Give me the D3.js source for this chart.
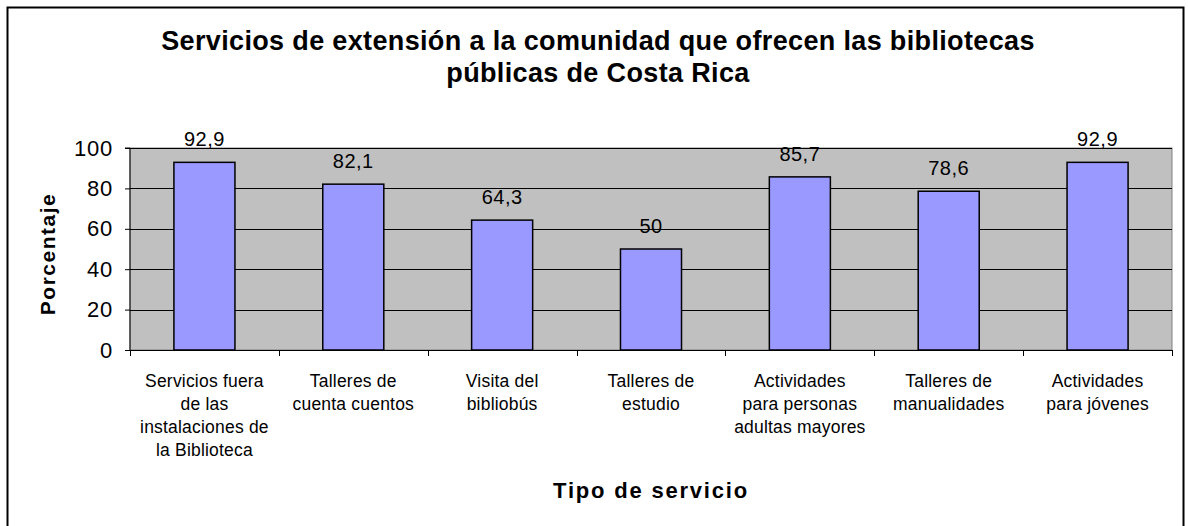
<!DOCTYPE html>
<html>
<head>
<meta charset="utf-8">
<script src="https://cdn.jsdelivr.net/npm/d3@7"></script>
<style>
  html, body { margin: 0; padding: 0; background: #fff; }
  svg { display: block; font-family: "Liberation Sans", Arial, sans-serif; }
</style>
</head>
<body>
<svg id="chart" width="1188" height="526"></svg>
<script>
// Service categories (each entry is the list of wrapped label lines)
const categories = [
  ["Servicios fuera", "de las", "instalaciones de", "la Biblioteca"],
  ["Talleres de", "cuenta cuentos"],
  ["Visita del", "bibliobús"],
  ["Talleres de", "estudio"],
  ["Actividades", "para personas", "adultas mayores"],
  ["Talleres de", "manualidades"],
  ["Actividades", "para jóvenes"]
];
// Percentage of libraries offering each service
const values = [92.9, 82.1, 64.3, 50, 85.7, 78.6, 92.9];
const yTicks = [0, 20, 40, 60, 80, 100];
const titleLines = [
  "Servicios de extensión a la comunidad que ofrecen las bibliotecas",
  "públicas de Costa Rica"
];

const svg = d3.select("#chart");
const plot = { left: 130, right: 1172, top: 148, bottom: 350 };

// Outer frame
svg.append("rect")
  .attr("x", 7.5).attr("y", 7.5)
  .attr("width", 1176).attr("height", 530)
  .attr("fill", "#fff").attr("stroke", "#000").attr("stroke-width", 2);

const idx = d3.range(categories.length);
const x = d3.scaleBand().domain(idx).range([plot.left, plot.right]).padding(0);
const y = d3.scaleLinear().domain([0, 100]).range([plot.bottom, plot.top]);

// Plot background
svg.append("rect")
  .attr("x", plot.left).attr("y", plot.top)
  .attr("width", plot.right - plot.left).attr("height", plot.bottom - plot.top)
  .attr("fill", "#c0c0c0").attr("stroke", "#808080").attr("stroke-width", 1);

// Gridlines
svg.append("g").selectAll("line")
  .data(yTicks.filter(t => t > 0))
  .join("line")
  .attr("x1", plot.left).attr("x2", plot.right)
  .attr("y1", d => Math.round(y(d)) + 0.5).attr("y2", d => Math.round(y(d)) + 0.5)
  .attr("stroke", "#000").attr("stroke-width", 1);

// Bars
const barFrac = 0.41;
const barW = x.bandwidth() * barFrac;
svg.append("g").selectAll("rect")
  .data(values)
  .join("rect")
  .attr("x", (d, i) => x(i) + (x.bandwidth() - barW) / 2)
  .attr("y", d => y(d))
  .attr("width", barW)
  .attr("height", d => y(0) - y(d))
  .attr("fill", "#9999ff")
  .attr("stroke", "#000").attr("stroke-width", 1.5);

// Value labels
svg.append("g").selectAll("text")
  .data(values)
  .join("text")
  .attr("x", (d, i) => x(i) + x.bandwidth() / 2)
  .attr("y", d => y(d) - 16)
  .attr("text-anchor", "middle")
  .attr("font-size", 20)
  .attr("letter-spacing", 0.5)
  .attr("fill", "#000")
  .text(d => String(d).replace(".", ","));

// Y axis
const yAxis = d3.axisLeft(y).tickValues(yTicks).tickSize(5).tickPadding(12);
const yg = svg.append("g").attr("transform", `translate(${plot.left},0)`).call(yAxis);
yg.select(".domain").attr("stroke", "#000").attr("d", `M-5,${plot.top}H0V${plot.bottom}`);
yg.selectAll(".tick line").attr("stroke", "#000");
yg.selectAll(".tick text").attr("font-size", 22).attr("fill", "#000")
  .attr("letter-spacing", 0.8)
  .attr("font-family", "Liberation Sans, Arial, sans-serif");

// X axis baseline and category separator ticks
svg.append("line")
  .attr("x1", plot.left).attr("x2", plot.right)
  .attr("y1", plot.bottom + 0.5).attr("y2", plot.bottom + 0.5)
  .attr("stroke", "#000");
svg.append("g").selectAll("line")
  .data(d3.range(categories.length + 1))
  .join("line")
  .attr("x1", i => Math.round(i < categories.length ? x(i) : plot.right) + 0.5)
  .attr("x2", i => Math.round(i < categories.length ? x(i) : plot.right) + 0.5)
  .attr("y1", plot.bottom).attr("y2", plot.bottom + 6)
  .attr("stroke", "#000");

// Category labels
const catG = svg.append("g");
categories.forEach((lines, i) => {
  const t = catG.append("text")
    .attr("x", x(i) + x.bandwidth() / 2)
    .attr("y", 387)
    .attr("text-anchor", "middle")
    .attr("font-size", 17.5)
    .attr("letter-spacing", 0.2)
    .attr("fill", "#000");
  lines.forEach((ln, j) => {
    t.append("tspan").attr("x", x(i) + x.bandwidth() / 2).attr("dy", j === 0 ? 0 : 23).text(ln);
  });
});

// Title
const title = svg.append("text")
  .attr("text-anchor", "middle")
  .attr("font-size", 27).attr("font-weight", "bold").attr("fill", "#000")
  .attr("letter-spacing", 0.35);
titleLines.forEach((ln, j) => {
  title.append("tspan").attr("x", 598).attr("y", 50 + j * 32).text(ln);
});

// Axis titles
svg.append("text")
  .attr("transform", `translate(55,${(plot.top + plot.bottom) / 2 + 5}) rotate(-90)`)
  .attr("text-anchor", "middle")
  .attr("font-size", 21).attr("font-weight", "bold").attr("fill", "#000")
  .attr("letter-spacing", 1.5)
  .text("Porcentaje");

svg.append("text")
  .attr("x", 651).attr("y", 498)
  .attr("text-anchor", "middle")
  .attr("font-size", 22).attr("font-weight", "bold").attr("fill", "#000")
  .attr("letter-spacing", 1.8)
  .text("Tipo de servicio");
</script>
</body>
</html>
